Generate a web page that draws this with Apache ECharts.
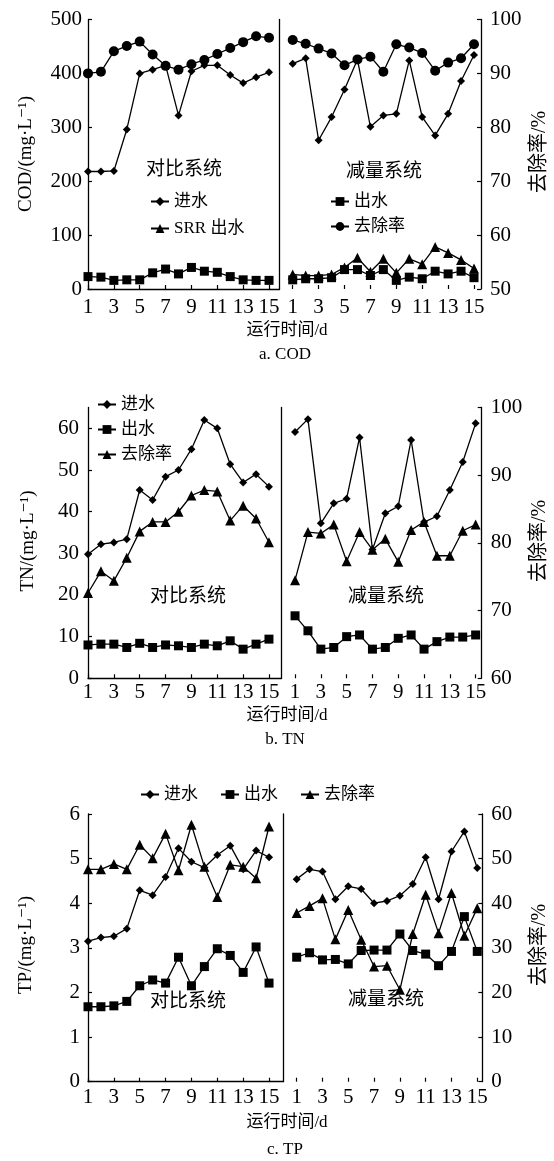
<!DOCTYPE html>
<html><head><meta charset="utf-8">
<script src="https://cdn.jsdelivr.net/npm/echarts@6/dist/echarts.min.js"></script>
<style>html,body{margin:0;padding:0;background:#fff}#c{width:554px;height:1161px}</style>
</head><body><div id="c"></div>
<script>
// ---------- data ----------
const days = [1,2,3,4,5,6,7,8,9,10,11,12,13,14,15];
const dayTicks = [1,3,5,7,9,11,13,15];

// a. COD  (mg/L, removal %)
const codTicks = [0,100,200,300,400,500];
const codRemTicks = [50,60,70,80,90,100];
const codInfCtrl = [218,218,219,296,400,407,415,322,404,415,415,397,382,393,402];
const codEffCtrl = [23,22,16,17,17,30,37,28,40,33,31,23,17,16,16];
const codRemCtrl = [90.0,90.3,94.1,95.1,95.9,93.5,91.4,90.7,91.7,92.5,93.6,94.7,95.8,96.9,96.6];
const codInfRed = [418,428,276,319,370,426,301,322,325,424,319,285,325,386,434];
const codSrrRed = [27,25,25,27,40,58,32,56,30,56,46,78,67,54,38];
const codEffRed = [17,19,19,21,36,36,25,36,16,22,19,33,28,33,21];
const codRemRed = [96.2,95.5,94.6,93.7,91.5,92.6,93.1,90.3,95.4,94.8,93.8,90.5,92.0,92.8,95.4];

// b. TN
const tnTicks = [0,10,20,30,40,50,60];
const tnRemTicks = [60,70,80,90,100];
const tnInfCtrl = [29.8,32.2,32.6,33.4,45.2,42.8,48.4,50.0,55.0,62.0,60.0,51.4,47.0,49.0,46.0];
const tnEffCtrl = [8.0,8.2,8.2,7.4,8.4,7.4,8.0,7.8,7.4,8.2,7.8,9.0,7.0,8.2,9.4];
const tnRemCtrl = [72.6,75.8,74.4,77.8,81.7,83.1,83.1,84.6,87.0,87.8,87.6,83.3,85.5,83.6,80.1];
const tnInfRed = [59.1,62.2,37.2,42.0,43.1,57.8,30.9,39.6,41.3,57.2,37.5,38.9,45.2,51.9,61.2];
const tnEffRed = [15.0,11.4,7.0,7.4,10.0,10.4,7.0,7.4,9.6,10.4,7.0,8.8,9.9,9.9,10.4];
const tnRemRed = [74.5,81.6,81.4,82.7,77.3,81.6,79.0,80.6,77.2,81.9,83.1,78.1,78.1,81.8,82.7];

// c. TP
const tpTicks = [0,1,2,3,4,5,6];
const tpRemTicks = [0,10,20,30,40,50,60];
const tpInfCtrl = [3.15,3.23,3.26,3.43,4.29,4.18,4.59,5.23,4.93,4.80,5.08,5.29,4.76,5.18,5.03];
const tpEffCtrl = [1.68,1.68,1.70,1.80,2.15,2.28,2.21,2.79,2.15,2.58,2.98,2.83,2.45,3.02,2.21];
const tpRemCtrl = [47.6,47.6,48.8,47.6,53.1,50.1,55.6,47.4,57.6,48.2,41.4,48.6,48.2,45.6,57.2];
const tpInfRed = [4.54,4.76,4.71,4.09,4.38,4.32,4.00,4.05,4.17,4.43,5.03,4.09,5.16,5.61,4.79];
const tpEffRed = [2.79,2.89,2.73,2.74,2.64,2.94,2.95,2.95,3.31,2.94,2.86,2.60,2.92,3.70,2.92];
const tpRemRed = [37.8,39.4,41.1,31.9,38.5,31.8,25.8,26.0,20.6,33.1,41.9,33.3,42.3,32.7,38.9];

// ---------- chart ----------
const FONT = '"Liberation Serif","DejaVu Serif","Noto Sans CJK SC",serif';
const BLACK = '#000';
const SYM = {diamond:['diamond',8], rect:['rect',9], circle:['circle',10], triangle:['triangle',10]};

const option = {animation:false, backgroundColor:'#fff', grid:[], xAxis:[], yAxis:[], series:[], legend:[], graphic:[]};

function addPanel(cfg){
  const base = option.grid.length;
  ['L','R'].forEach((side)=>{
    const gi = option.grid.length;
    const g = cfg[side];
    option.grid.push({left:g.left, top:cfg.top, width:g.width, height:cfg.height});
    option.xAxis.push({type:'value', gridIndex:gi, min:g.min, max:g.max,
      axisLine:{show: side==='L', onZero:false, lineStyle:{color:BLACK, width:1.3}},
      axisTick:{show:true, inside:true, length:4, customValues:dayTicks, lineStyle:{color:BLACK, width:1.2}},
      axisLabel:{customValues:dayTicks, margin:cfg.xMargin, color:BLACK, fontSize:21, fontFamily:FONT},
      splitLine:{show:false}});
    option.yAxis.push({type:'value', gridIndex:gi, position:'left', min:cfg.cMin, max:cfg.cMax, interval:cfg.cInt,
      axisLine:{show:true, onZero:false, lineStyle:{color:BLACK, width:1.3}},
      axisTick:{show: side==='L', inside:true, length:4, customValues:cfg.cTicks, lineStyle:{color:BLACK, width:1.2}},
      axisLabel:{show: side==='L', customValues:cfg.cTicks, margin:cfg.yMargin, color:BLACK, fontSize:21, fontFamily:FONT},
      splitLine:{show:false}});
    option.yAxis.push({type:'value', gridIndex:gi, position:'right', show: side==='R', min:cfg.rMin, max:cfg.rMax, interval:cfg.rInt,
      axisLine:{show:true, onZero:false, lineStyle:{color:BLACK, width:1.3}},
      axisTick:{show:true, inside:true, length:4, customValues:cfg.rTicks, lineStyle:{color:BLACK, width:1.2}},
      axisLabel:{customValues:cfg.rTicks, margin:9, color:BLACK, fontSize:21, fontFamily:FONT},
      splitLine:{show:false}});
  });
  cfg.series.forEach(s=>{
    const gi = base + (s.side==='L'?0:1);
    const sym = SYM[s.symbol];
    option.series.push({type:'line', name:s.name, xAxisIndex:gi, yAxisIndex:2*gi + (s.rate?1:0),
      data: days.map((d,i)=>[d, s.values[i]]),
      symbol:sym[0], symbolSize:sym[1], clip:false,
      lineStyle:{color:BLACK, width:1.3}, itemStyle:{color:BLACK}});
  });
}

addPanel({top:19.5, height:269.5, xMargin:7.5, yMargin:6,
  L:{left:88, width:191.5, min:1, max:15.81},
  R:{left:279.5, width:201.5, min:-0.02, max:15.54},
  cMin:0, cMax:500, cInt:100, cTicks:codTicks, rMin:50, rMax:100, rInt:10, rTicks:codRemTicks,
  series:[
    {name:'a:进水', side:'L', values:codInfCtrl, symbol:'diamond'},
    {name:'a:出水', side:'L', values:codEffCtrl, symbol:'rect'},
    {name:'a:去除率', side:'L', values:codRemCtrl, symbol:'circle', rate:true},
    {name:'a:进水', side:'R', values:codInfRed, symbol:'diamond'},
    {name:'a:SRR 出水', side:'R', values:codSrrRed, symbol:'triangle'},
    {name:'a:出水', side:'R', values:codEffRed, symbol:'rect'},
    {name:'a:去除率', side:'R', values:codRemRed, symbol:'circle', rate:true}
  ]});

addPanel({top:407.5, height:270.8, xMargin:3.5, yMargin:9,
  L:{left:88, width:193.5, min:1, max:15.97},
  R:{left:281.5, width:200.2, min:-0.05, max:15.47},
  cMin:0, cMax:65, cInt:10, cTicks:tnTicks, rMin:60, rMax:100, rInt:10, rTicks:tnRemTicks,
  series:[
    {name:'b:进水', side:'L', values:tnInfCtrl, symbol:'diamond'},
    {name:'b:出水', side:'L', values:tnEffCtrl, symbol:'rect'},
    {name:'b:去除率', side:'L', values:tnRemCtrl, symbol:'triangle', rate:true},
    {name:'b:进水', side:'R', values:tnInfRed, symbol:'diamond'},
    {name:'b:出水', side:'R', values:tnEffRed, symbol:'rect'},
    {name:'b:去除率', side:'R', values:tnRemRed, symbol:'triangle', rate:true}
  ]});

addPanel({top:814, height:267.7, xMargin:5, yMargin:8,
  L:{left:88, width:195, min:1, max:16.08},
  R:{left:283, width:199.3, min:-0.06, max:15.39},
  cMin:0, cMax:6, cInt:1, cTicks:tpTicks, rMin:0, rMax:60, rInt:10, rTicks:tpRemTicks,
  series:[
    {name:'c:进水', side:'L', values:tpInfCtrl, symbol:'diamond'},
    {name:'c:出水', side:'L', values:tpEffCtrl, symbol:'rect'},
    {name:'c:去除率', side:'L', values:tpRemCtrl, symbol:'triangle', rate:true},
    {name:'c:进水', side:'R', values:tpInfRed, symbol:'diamond'},
    {name:'c:出水', side:'R', values:tpEffRed, symbol:'rect'},
    {name:'c:去除率', side:'R', values:tpRemRed, symbol:'triangle', rate:true}
  ]});

function legend(names, left, top, orient, gap){
  return {data:names, left:left, top:top, orient:orient, itemGap:gap, padding:0, itemWidth:18, itemHeight:11,
    selectedMode:false, formatter:n=>n.split(':')[1],
    textStyle:{fontSize:17, fontFamily:FONT, color:BLACK}};
}
option.legend.push(legend(['a:进水','a:SRR 出水'], 150, 193, 'vertical', 10));
option.legend.push(legend(['a:出水','a:去除率'], 330, 193, 'vertical', 8));
option.legend.push(legend(['b:进水','b:出水','b:去除率'], 97, 396, 'vertical', 8));
option.legend.push(legend(['c:进水','c:出水','c:去除率'], 140, 786, 'horizontal', 22));

function txt(text, x, y, size, rot){
  return {type:'text', x:x, y:y, rotation:rot||0, silent:true,
    style:{text:text, x:0, y:0, align:'center', verticalAlign:'middle', fill:BLACK, fontSize:size, fontFamily:FONT}};
}
const R90 = Math.PI/2;
option.graphic = [
  txt('对比系统',184,170,19), txt('减量系统',384,172,19),
  txt('运行时间/d',287,331,17), txt('a. COD',285,355,17),
  txt('COD/(mg·L⁻¹)',26,154,19,R90), txt('去除率/%',540,152,20,R90),
  txt('对比系统',188,597,19), txt('减量系统',386,597,19),
  txt('运行时间/d',287,716,17), txt('b. TN',285,740,17),
  txt('TN/(mg·L⁻¹)',28,541,19,R90), txt('去除率/%',540,541,20,R90),
  txt('对比系统',188,1002,19), txt('减量系统',386,1000,19),
  txt('运行时间/d',287,1123,17), txt('c. TP',285,1150,17),
  txt('TP/(mg·L⁻¹)',26,945,19,R90), txt('去除率/%',540,945,20,R90)
];

const chart = echarts.init(document.getElementById('c'), null, {renderer:'canvas'});
chart.setOption(option);
</script>
</body></html>
